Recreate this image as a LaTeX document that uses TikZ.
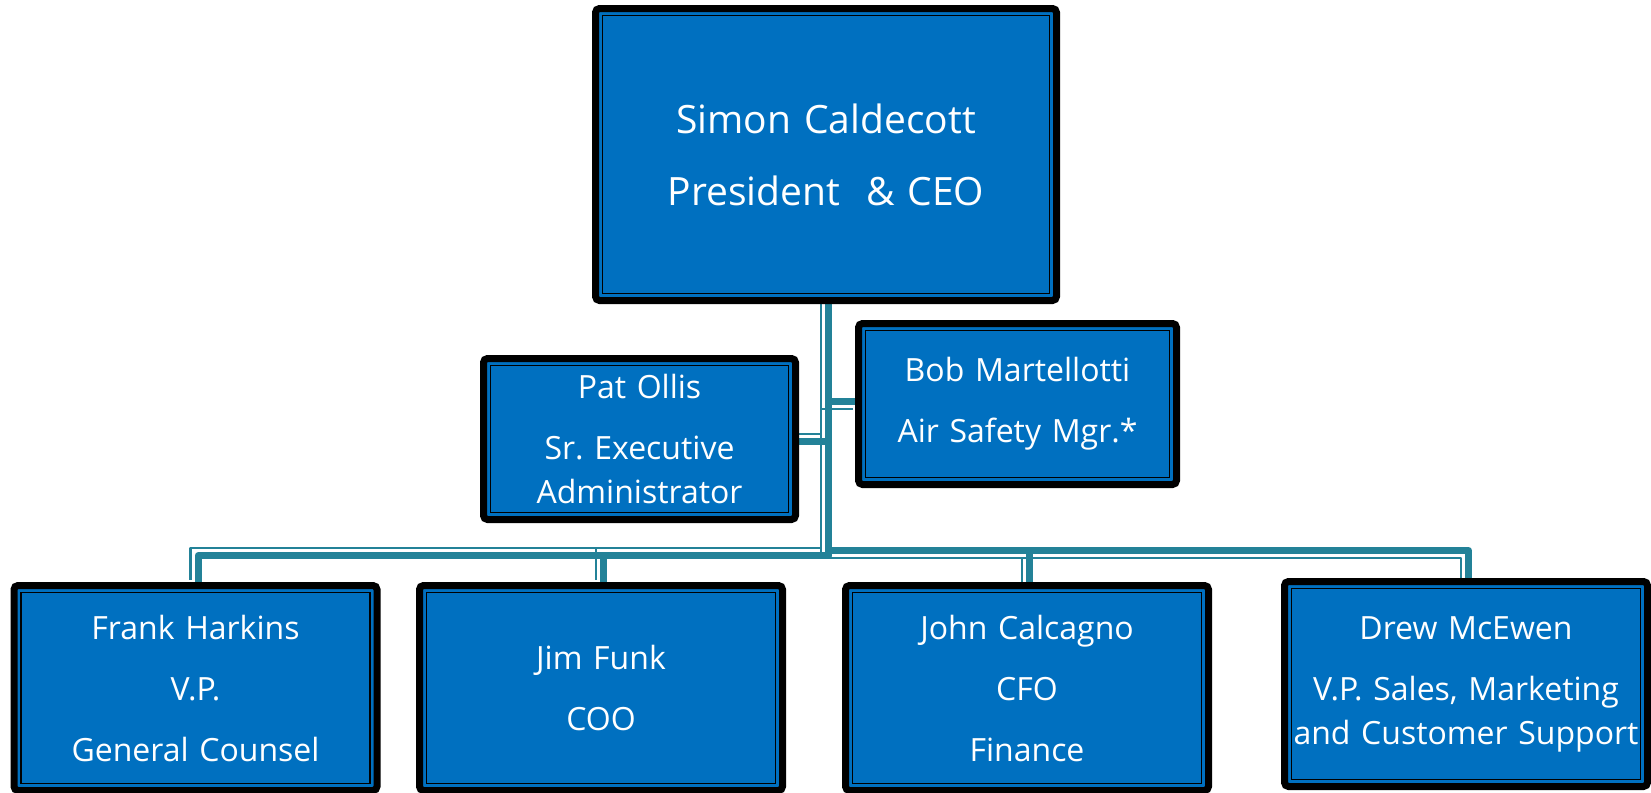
\documentclass[tikz,border=0pt]{standalone}
\usepackage{fontspec}
\setmainfont{Open Sans}
\usepackage{tikz}
\usetikzlibrary{positioning,backgrounds,calc}
\frenchspacing
\definecolor{boxblue}{RGB}{0,112,192}
\definecolor{linkteal}{RGB}{35,130,152}
\tikzstyle{staff} = [draw=black, line width=3.5pt, rounded corners=2pt, fill=boxblue, text=white, align=center, inner sep=0pt, font=\fontsize{16}{22}\selectfont, path picture={\draw[black, line width=0.8pt, sharp corners] ([shift={(3.45pt,3.45pt)}]path picture bounding box.south west) rectangle ([shift={(-3.45pt,-3.45pt)}]path picture bounding box.north east);}]
\tikzstyle{link thick} = [draw=linkteal, line width=3.5pt, line join=round, shorten >=-1.5pt]
\tikzstyle{link thin} = [draw=linkteal, line width=1.1pt, line join=round, shorten >=-1.5pt]
% thick-thin line, #1 = 1 thin side above, -1 thin side below
\newcommand{\reportline}[2]{%
  \draw[link thick, transform canvas={xshift=1.25pt, yshift=-1.25pt*(#1)}] #2;
  \draw[link thin, transform canvas={xshift=-2.5pt, yshift=2.5pt*(#1)}] #2;}

\begin{document}
\begin{tikzpicture}[x=0.5pt, y=-0.5pt]
        \useasboundingbox (0,0) rectangle (1651,793);
        \node[staff, text width=230.5pt, minimum height=146pt, font=\fontsize{19.5}{27}\selectfont] (ceo) at (826,154.5) {Simon Caldecott\\[9pt]President~\ \& CEO};
        \node[staff, text width=156pt, minimum height=80.5pt] (pat) at (639.5,439) {Pat Ollis\\[8.5pt]Sr. Executive\\Administrator};
        \node[staff, text width=159pt, minimum height=80.5pt] (bob) at (1017.5,404) {Bob Martellotti\\[8.5pt]Air Safety Mgr.*};
        \node[staff, text width=181.5pt, minimum height=102.5pt] (frank) at (195.5,688) {Frank Harkins\\[8.5pt]V.P.\\[8.5pt]General Counsel};
        \node[staff, text width=181.5pt, minimum height=102.5pt] (jim) at (601,688) {Jim Funk\\[8.5pt]COO};
        \node[staff, text width=181.5pt, minimum height=102.5pt] (john) at (1027,688) {John Calcagno\\[8.5pt]CFO\\[8.5pt]Finance};
        \node[staff, text width=181.5pt, minimum height=102.5pt] (drew) at (1466,684) {Drew McEwen\\[8.5pt]V.P. Sales, Marketing\\and Customer Support};
        \coordinate (bus) at (826,553);
        \begin{scope}[on background layer]
        \reportline{1}{(ceo.south) |- (pat.east)}
        \reportline{-1}{(ceo.south) |- (bob.west)}
        \reportline{1}{(ceo.south) -- (bus) -| (frank.north)}
        \reportline{1}{(ceo.south) -- (bus) -| (jim.north)}
        \reportline{-1}{(ceo.south) -- (bus) -| (john.north)}
        \reportline{-1}{(ceo.south) -- (bus) -| (drew.north)}
        \end{scope}
\end{tikzpicture}
\end{document}
